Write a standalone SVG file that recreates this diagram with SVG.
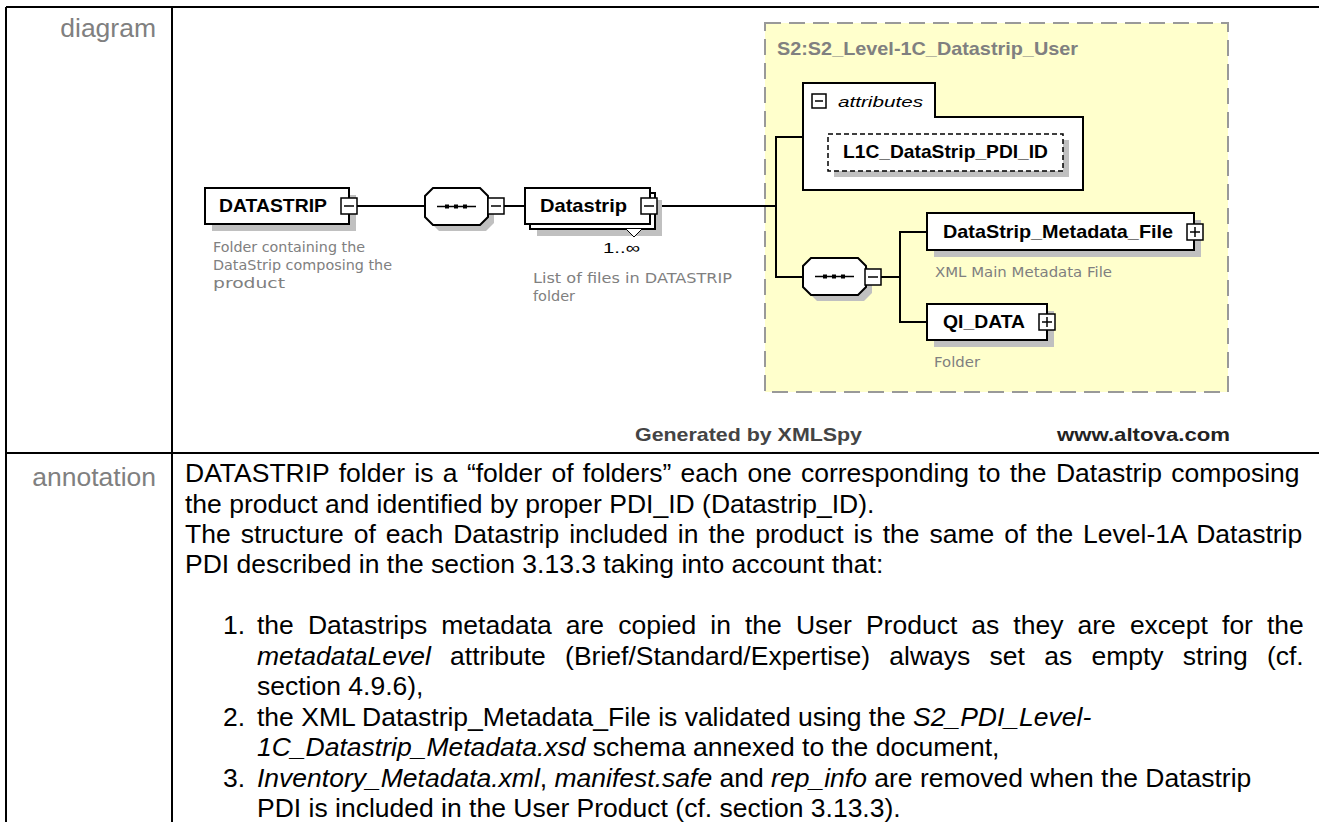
<svg xmlns="http://www.w3.org/2000/svg" width="1319" height="822" viewBox="0 0 1319 822">
<style>
.tbl{stroke:#000;stroke-width:2;fill:none}
.lbl{font-family:"Liberation Sans",Arial,sans-serif;font-size:26.5px;fill:#808080;text-anchor:end}
.ann{font-family:"Liberation Sans",Arial,sans-serif;font-size:26.5px;fill:#000}
.it{font-style:italic}
.box{fill:#fff;stroke:#000;stroke-width:2}
.shadow{fill:#c0c0c0}
.conn{stroke:#000;stroke-width:2;fill:none}
.name{font-family:"Liberation Sans",Arial,sans-serif;font-weight:bold;font-size:19px;fill:#000}
.desc{font-family:"DejaVu Sans",sans-serif;font-size:14.5px;fill:#808080}
.btn{fill:#fff;stroke:#000;stroke-width:1.5}
.sign{stroke:#000;stroke-width:1.5}
.foot{font-family:"Liberation Sans",Arial,sans-serif;font-weight:bold;font-size:19px}
</style>
<defs>
<g id="minus"><rect class="btn" x="0" y="0" width="16" height="16"/><line class="sign" x1="3" y1="8" x2="13" y2="8"/></g>
<g id="plus"><rect class="btn" x="0" y="0" width="16" height="16"/><line class="sign" x1="3" y1="8" x2="13" y2="8"/><line class="sign" x1="8" y1="3" x2="8" y2="13"/></g>
<g id="seq">
<polygon class="shadow" points="14,6 61,6 69,14 69,35 61,43 14,43 6,35 6,14"/>
<polygon class="box" points="8,0 55,0 63,8 63,29 55,37 8,37 0,29 0,8"/>
<line x1="12" y1="18.5" x2="51" y2="18.5" stroke="#000" stroke-width="1.5"/>
<rect x="20" y="16.5" width="4" height="4"/><rect x="29" y="16.5" width="4" height="4"/><rect x="38" y="16.5" width="4" height="4"/>
</g>
</defs>

<g id="table">
<line class="tbl" x1="6" y1="7" x2="1319" y2="7"/>
<line class="tbl" x1="6" y1="7" x2="6" y2="822"/>
<line class="tbl" x1="172" y1="7" x2="172" y2="822"/>
<line class="tbl" x1="6" y1="453" x2="1319" y2="453"/>
<text class="lbl" x="156" y="37">diagram</text>
<text class="lbl" x="156" y="486">annotation</text>
</g>

<g id="complexType">
<rect x="765" y="23" width="463" height="369" fill="#ffffcc" stroke="#999" stroke-width="2" stroke-dasharray="16 8"/>
<text x="777" y="55" font-family="Liberation Sans,Arial,sans-serif" font-weight="bold" font-size="18.5" fill="#808080" textLength="301" lengthAdjust="spacingAndGlyphs">S2:S2_Level-1C_Datastrip_User</text>
</g>

<g id="connectors">
<line class="conn" x1="357" y1="206" x2="425" y2="206"/>
<line class="conn" x1="504" y1="206" x2="525" y2="206"/>
<line class="conn" x1="657" y1="206" x2="776" y2="206"/>
<line class="conn" x1="776" y1="136" x2="776" y2="278"/>
<line class="conn" x1="776" y1="137" x2="803" y2="137"/>
<line class="conn" x1="776" y1="277" x2="803" y2="277"/>
<line class="conn" x1="881" y1="277" x2="900" y2="277"/>
<line class="conn" x1="900" y1="231" x2="900" y2="323"/>
<line class="conn" x1="900" y1="232" x2="927" y2="232"/>
<line class="conn" x1="900" y1="322" x2="927" y2="322"/>
</g>

<g id="node-DATASTRIP">
<rect class="shadow" x="212" y="195" width="144" height="36"/>
<rect class="box" x="205" y="188" width="144" height="36"/>
<text class="name" x="219" y="212" textLength="108" lengthAdjust="spacingAndGlyphs">DATASTRIP</text>
<use href="#minus" x="341" y="198"/>
<text class="desc" x="213" y="252" textLength="152" lengthAdjust="spacingAndGlyphs">Folder containing the</text>
<text class="desc" x="213" y="270" textLength="179" lengthAdjust="spacingAndGlyphs">DataStrip composing the</text>
<text class="desc" x="213" y="288" textLength="72" lengthAdjust="spacingAndGlyphs">product</text>
</g>

<g id="node-sequence1">
<use href="#seq" x="425" y="188"/>
<use href="#minus" x="488" y="198"/>
</g>

<g id="node-Datastrip">
<rect class="shadow" x="537" y="200" width="125" height="36"/>
<rect class="box" x="530" y="193" width="125" height="36"/>
<rect class="box" x="525" y="188" width="125" height="36"/>
<text class="name" x="540" y="212" textLength="87" lengthAdjust="spacingAndGlyphs">Datastrip</text>
<use href="#minus" x="641" y="198"/>
<polyline points="626,229 634,237 642,229" fill="#fff" stroke="#000" stroke-width="1"/>
<text x="603" y="253" font-family="Liberation Sans,Arial,sans-serif" font-size="15" fill="#000" textLength="37" lengthAdjust="spacingAndGlyphs">1..∞</text>
<text class="desc" x="533" y="283" textLength="199" lengthAdjust="spacingAndGlyphs">List of files in DATASTRIP</text>
<text class="desc" x="533" y="301" textLength="42" lengthAdjust="spacingAndGlyphs">folder</text>
</g>

<g id="node-attributes">
<polygon class="box" points="803,83 935,83 935,117 1083,117 1083,190 803,190"/>
<rect class="btn" x="812" y="94" width="14" height="14"/>
<line class="sign" x1="815" y1="101" x2="823" y2="101"/>
<text x="838" y="107" font-family="Liberation Sans,Arial,sans-serif" font-style="italic" font-size="15" fill="#000" textLength="85" lengthAdjust="spacingAndGlyphs">attributes</text>
</g>

<g id="node-L1C_DataStrip_PDI_ID">
<rect class="shadow" x="834" y="140" width="235" height="37"/>
<rect x="828" y="134" width="235" height="37" fill="#fff" stroke="#000" stroke-width="1.5" stroke-dasharray="5 3"/>
<text class="name" x="843" y="158" font-size="18" textLength="205" lengthAdjust="spacingAndGlyphs">L1C_DataStrip_PDI_ID</text>
</g>

<g id="node-sequence2">
<use href="#seq" x="803" y="258"/>
<use href="#minus" x="865" y="269"/>
</g>

<g id="node-DataStrip_Metadata_File">
<rect class="shadow" x="934" y="220" width="267" height="37"/>
<rect class="box" x="927" y="213" width="267" height="37"/>
<text class="name" x="943" y="238" textLength="230" lengthAdjust="spacingAndGlyphs">DataStrip_Metadata_File</text>
<use href="#plus" x="1187" y="224"/>
<text class="desc" x="935" y="277" textLength="177" lengthAdjust="spacingAndGlyphs">XML Main Metadata File</text>
</g>

<g id="node-QI_DATA">
<rect class="shadow" x="934" y="311" width="120" height="36"/>
<rect class="box" x="927" y="304" width="120" height="36"/>
<text class="name" x="943" y="328" textLength="82" lengthAdjust="spacingAndGlyphs">QI_DATA</text>
<use href="#plus" x="1039" y="314"/>
<text class="desc" x="934" y="367" textLength="46" lengthAdjust="spacingAndGlyphs">Folder</text>
</g>

<g id="footer">
<text class="foot" x="635" y="441" fill="#444" textLength="227" lengthAdjust="spacingAndGlyphs">Generated by XMLSpy</text>
<text class="foot" x="1057" y="441" fill="#222" textLength="173" lengthAdjust="spacingAndGlyphs">www.altova.com</text>
</g>

<g id="annotation">
<text class="ann" x="185" y="482" word-spacing="2">DATASTRIP folder is a “folder of folders” each one corresponding to the Datastrip composing</text>
<text class="ann" x="185" y="513">the product and identified by proper PDI_ID (Datastrip_ID).</text>
<text class="ann" x="185" y="543" word-spacing="2.6">The structure of each Datastrip included in the product is the same of the Level-1A Datastrip</text>
<text class="ann" x="185" y="573">PDI described in the section 3.13.3 taking into account that:</text>
<text class="ann" x="223" y="634">1.</text>
<text class="ann" x="257" y="634" word-spacing="6.7">the Datastrips metadata are copied in the User Product as they are except for the</text>
<text class="ann" x="257" y="665" word-spacing="11.9"><tspan class="it">metadataLevel</tspan> attribute (Brief/Standard/Expertise) always set as empty string (cf.</text>
<text class="ann" x="257" y="695">section 4.9.6),</text>
<text class="ann" x="223" y="726">2.</text>
<text class="ann" x="257" y="726">the XML Datastrip_Metadata_File is validated using the <tspan class="it">S2_PDI_Level-</tspan></text>
<text class="ann" x="257" y="756"><tspan class="it">1C_Datastrip_Metadata.xsd</tspan> schema annexed to the document,</text>
<text class="ann" x="223" y="787">3.</text>
<text class="ann" x="257" y="787"><tspan class="it">Inventory_Metadata.xml</tspan>, <tspan class="it">manifest.safe</tspan> and <tspan class="it">rep_info</tspan> are removed when the Datastrip</text>
<text class="ann" x="257" y="817">PDI is included in the User Product (cf. section 3.13.3).</text>
</g>
</svg>
